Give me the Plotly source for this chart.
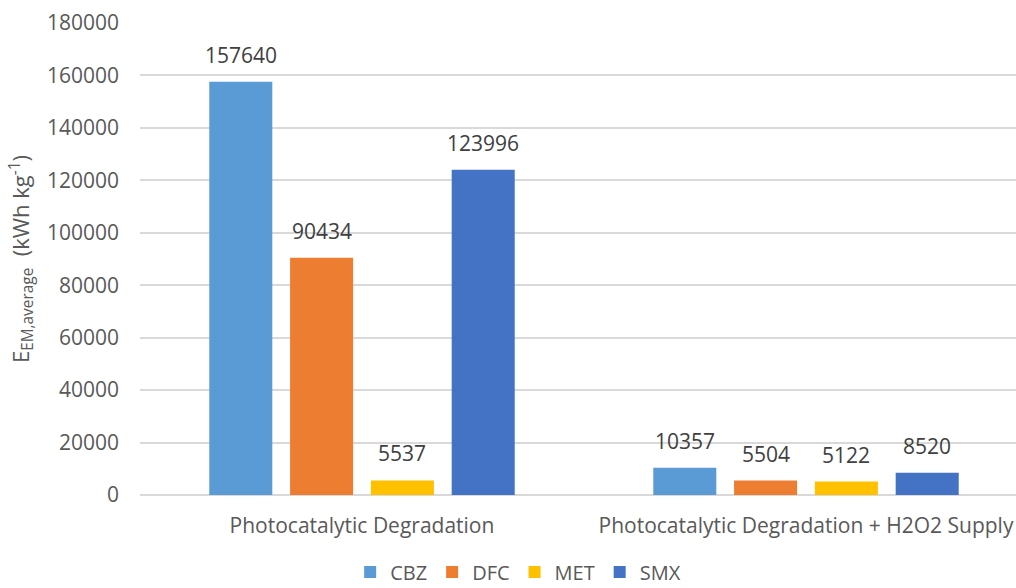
import plotly.graph_objects as go

# Energy per mass for each pharmaceutical under two treatment schemes
categories = ["Photocatalytic Degradation", "Photocatalytic Degradation + H2O2 Supply"]
series_names = ["CBZ", "DFC", "MET", "SMX"]
cbz = [157640, 10357]
dfc = [90434, 5504]
met = [5537, 5122]
smx = [123996, 8520]
y_ticks = [0, 20000, 40000, 60000, 80000, 100000, 120000, 140000, 160000, 180000]

colors = ["#5B9BD5", "#ED7D31", "#FFC000", "#4472C4"]
all_values = [cbz, dfc, met, smx]

FONT = "Open Sans"
TEXT_GREY = "#595959"

fig = go.Figure()
for name, vals, col in zip(series_names, all_values, colors):
    fig.add_trace(go.Bar(
        name=name, x=categories, y=vals, marker_color=col,
        marker_line_width=0,
    ))

# value labels above each bar, shifted to the bar's slot within its group
slot_px = 80.75
for i, vals in enumerate(all_values):
    for cat, v in zip(categories, vals):
        fig.add_annotation(
            x=cat, y=v, text=str(v), showarrow=False,
            xshift=(i - 1.5) * slot_px, yshift=11, yanchor="bottom",
            font=dict(family=FONT, size=21, color="#404040"),
        )

fig.update_layout(
    width=1016, height=588,
    margin=dict(l=140, r=0, t=23, b=93),
    paper_bgcolor="white", plot_bgcolor="white",
    barmode="group", bargap=0.272, bargroupgap=0.22,
    font=dict(family=FONT, color=TEXT_GREY),
    showlegend=True,
    legend=dict(
        orientation="h", xref="container", yref="container",
        x=0.51, xanchor="center", y=0.027, yanchor="middle",
        font=dict(family=FONT, size=20, color=TEXT_GREY),
        itemwidth=30, traceorder="normal",
    ),
    xaxis=dict(
        range=[-0.5, 1.473], showgrid=False, zeroline=False,
        showline=False, ticks="", ticklabelstandoff=16,
        tickfont=dict(family=FONT, size=21, color=TEXT_GREY),
    ),
    yaxis=dict(
        range=[0, 180000], tickvals=y_ticks,
        ticktext=[str(t) for t in y_ticks],
        showgrid=True, gridcolor="#D9D9D9", gridwidth=2,
        zeroline=True, zerolinecolor="#D9D9D9", zerolinewidth=2,
        ticks="", ticklabelstandoff=20,
        tickfont=dict(family=FONT, size=21, color=TEXT_GREY),
        title=dict(
            text="E<sub>EM,average</sub>  (kWh kg<sup>-1</sup>)",
            font=dict(family=FONT, size=22, color=TEXT_GREY),
            standoff=11,
        ),
    ),
)

fig.write_html("out.html")
